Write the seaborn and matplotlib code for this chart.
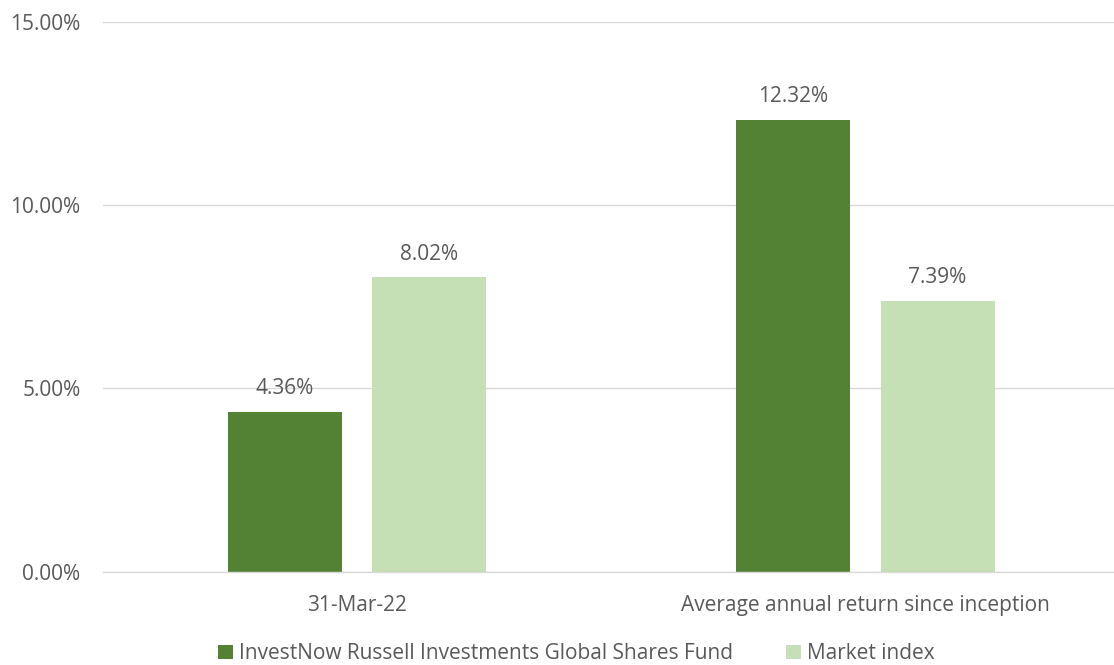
import pandas as pd
import matplotlib.pyplot as plt
import seaborn as sns
from matplotlib.patches import Patch

# data
categories = ["31-Mar-22", "Average annual return since inception"]
series_names = ["InvestNow Russell Investments Global Shares Fund", "Market index"]
fund_values = [4.36, 12.32]
index_values = [8.02, 7.39]
y_ticks = [0, 5, 10, 15]

colors = ["#548235", "#C5E0B4"]
text_color = "#595959"

df = pd.DataFrame({
    "category": categories * 2,
    "series": [series_names[0]] * 2 + [series_names[1]] * 2,
    "value": fund_values + index_values,
})

sns.set_theme(style="white")
plt.rcParams["font.family"] = ["Open Sans", "DejaVu Sans"]

fig = plt.figure(figsize=(11.14, 6.65), dpi=100)
ax = fig.add_axes([0.0921, 0.1406, 0.913, 0.827])

sns.barplot(data=df, x="category", y="value", hue="series", order=categories,
            hue_order=series_names, palette=colors, width=0.568, gap=0.21,
            saturation=1, linewidth=0, legend=False, ax=ax)

for cont in ax.containers:
    ax.bar_label(cont, labels=[f"{v:.2f}%" for v in cont.datavalues],
                 padding=9, fontsize=15, color=text_color)

ax.set_ylim(0, 15)
ax.set_yticks(y_ticks)
ax.set_yticklabels([f"{t:.2f}%" for t in y_ticks])
ax.set_xlabel("")
ax.set_ylabel("")
ax.yaxis.grid(True, color="#D9D9D9", linewidth=1)
ax.set_axisbelow(True)
for side in ["top", "right", "left"]:
    ax.spines[side].set_visible(False)
ax.spines["bottom"].set_color("#D9D9D9")
ax.spines["bottom"].set_linewidth(1)
ax.tick_params(axis="both", length=0, labelsize=15, colors=text_color)
ax.tick_params(axis="y", pad=16)
ax.tick_params(axis="x", pad=17)

handles = [Patch(facecolor=c, edgecolor="none") for c in colors]
fig.legend(handles, series_names, loc="lower center", bbox_to_anchor=(0.5175, -0.027),
           ncol=2, frameon=False, fontsize=15, handlelength=0.7, handleheight=0.7,
           handletextpad=0.3, columnspacing=2.57, labelcolor=text_color)

fig.savefig("out.png", dpi=100)
